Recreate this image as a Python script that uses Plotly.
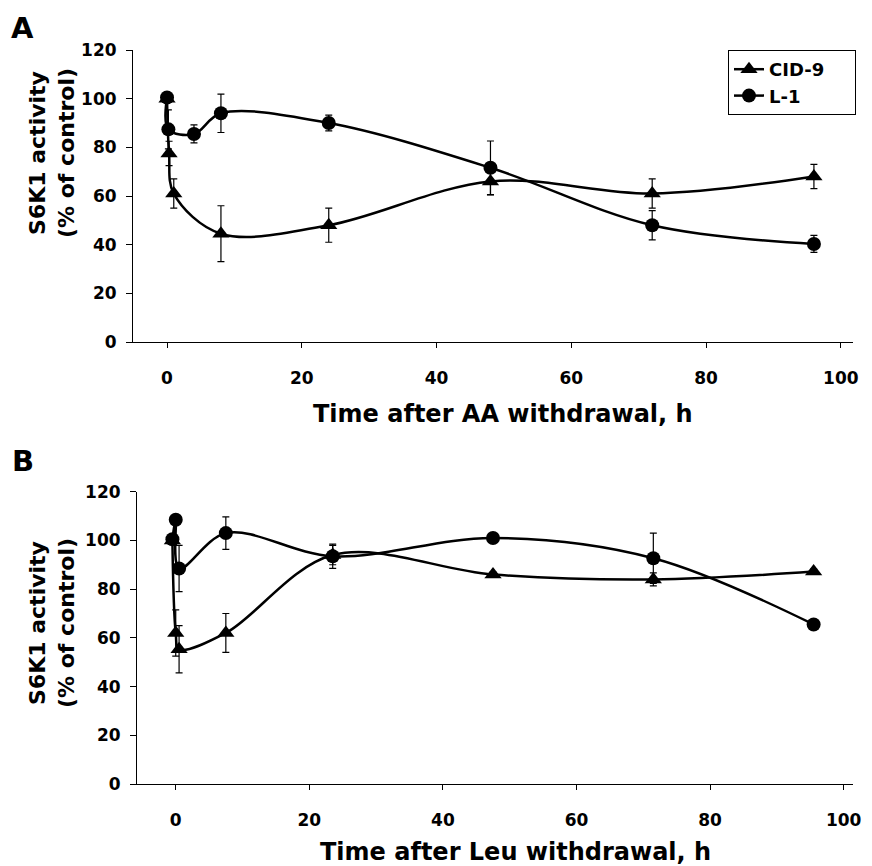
import plotly.graph_objects as go

# ---------------- data ----------------
# Panel A: Time after AA withdrawal (h)
cid_A_x = [0, 0.3, 1, 8, 24, 48, 72, 96]
cid_A_y = [100, 77.5, 61, 44.5, 48, 66, 61, 68]
cid_A_err = [1, 5, 6, 11.5, 7, 5.5, 6, 5]

l1_A_x = [0, 0.2, 4, 8, 24, 48, 72, 96]
l1_A_y = [100.5, 87.4, 85.5, 94, 90, 71.6, 48, 40.3]
l1_A_err = [1.5, 8, 3.7, 7.9, 3.2, 11, 6, 3.5]

# Panel B: Time after Leu withdrawal (h)
cid_B_x = [-0.5, 0, 0.5, 7.5, 23.5, 47.5, 71.5, 95.5]
cid_B_y = [100, 62, 55.3, 62, 94, 86, 84, 87.2]
cid_B_err = [1, 9.5, 9.7, 8, 4, 1, 2.7, 1]

l1_B_x = [-0.5, 0, 0.5, 7.5, 23.5, 47.5, 71.5, 95.5]
l1_B_y = [100.5, 108.5, 88.5, 103, 93.5, 101, 92.7, 65.5]
l1_B_err = [1, 1, 9.5, 6.7, 5, 1, 10.3, 1]

y_ticks = [0, 20, 40, 60, 80, 100, 120]
x_ticks = [0, 20, 40, 60, 80, 100]

series_names = ["CID-9", "L-1"]
panel_labels = ["A", "B"]
x_titles = ["Time after AA withdrawal, h", "Time after Leu withdrawal, h"]
y_title = "S6K1 activity<br>(% of control)"

FONT = "DejaVu Sans"
W, H = 872, 866
PAD = "\u00a0" * 4  # right padding inside the legend box

fig = go.Figure()


def add_series(x, y, err, name, symbol, xa, ya, show):
    fig.add_trace(go.Scatter(
        x=x, y=y, name=name + PAD, mode="lines+markers",
        line=dict(color="black", width=2.5, shape="spline", smoothing=1.0),
        marker=dict(symbol=symbol, size=14 if symbol == "circle" else 15, color="black"),
        error_y=dict(type="data", array=err, visible=True, color="black",
                     thickness=1.2, width=3.5),
        xaxis=xa, yaxis=ya, showlegend=show,
    ))


add_series(cid_A_x, cid_A_y, cid_A_err, series_names[0], "triangle-up", "x", "y", True)
add_series(l1_A_x, l1_A_y, l1_A_err, series_names[1], "circle", "x", "y", True)
add_series(cid_B_x, cid_B_y, cid_B_err, series_names[0], "triangle-up", "x2", "y2", False)
add_series(l1_B_x, l1_B_y, l1_B_err, series_names[1], "circle", "x2", "y2", False)


def px_x(p):
    return p / W


def px_y(p):
    return 1 - p / H


tickfont = dict(family=FONT, size=17, color="black", weight="bold")
common_x = dict(tickvals=x_ticks, ticks="outside", ticklen=5, tickwidth=1,
                tickcolor="black", showline=True, linecolor="black", linewidth=1,
                showgrid=False, zeroline=False, tickfont=tickfont,
                ticklabelstandoff=16, automargin=False)
common_y = dict(tickvals=y_ticks, range=[0, 120], ticks="outside", ticklen=6,
                tickwidth=1, tickcolor="black", showline=True, linecolor="black",
                linewidth=1, showgrid=False, zeroline=False, tickfont=tickfont,
                ticklabelstandoff=6, automargin=False)

fig.update_layout(
    width=W, height=H,
    margin=dict(l=0, r=0, t=0, b=0),
    paper_bgcolor="white", plot_bgcolor="white",
    xaxis=dict(domain=[px_x(133), px_x(853)], range=[-5.05, 101.8],
               anchor="y", **common_x),
    yaxis=dict(domain=[px_y(342), px_y(50)], anchor="x", **common_y),
    xaxis2=dict(domain=[px_x(137), px_x(852.7)], range=[-5.8, 101.35],
                anchor="y2", **common_x),
    yaxis2=dict(domain=[px_y(784), px_y(491.7)], anchor="x2", **common_y),
    legend=dict(x=px_x(728), y=px_y(50), xanchor="left", yanchor="top",
                bordercolor="black", borderwidth=1, bgcolor="white",
                font=dict(family=FONT, size=18, color="black", weight="bold"),
                tracegroupgap=0, itemwidth=30),
)

ann = []
# panel letters
for lbl, (xp, yp) in zip(panel_labels, [(22, 28), (23, 461)]):
    ann.append(dict(text=lbl, x=px_x(xp), y=px_y(yp), xref="paper", yref="paper",
                    showarrow=False, xanchor="center", yanchor="middle",
                    font=dict(family=FONT, size=29, color="black", weight="bold")))
# x titles
for t, (xp, yp) in zip(x_titles, [(503, 414), (515, 852)]):
    ann.append(dict(text=t, x=px_x(xp), y=px_y(yp), xref="paper", yref="paper",
                    showarrow=False, xanchor="center", yanchor="middle",
                    font=dict(family=FONT, size=24, color="black", weight="bold")))
# y titles
for yp in [153, 623]:
    ann.append(dict(text=y_title, x=px_x(52), y=px_y(yp), xref="paper", yref="paper",
                    showarrow=False, xanchor="center", yanchor="middle", textangle=-90,
                    font=dict(family=FONT, size=22, color="black", weight="bold")))
fig.update_layout(annotations=ann)

fig.write_html(
    "out.html",
    config={"displayModeBar": False},
    post_script="document.body.style.margin='0';document.body.style.padding='0';"
                "document.body.style.overflow='hidden';",
)
